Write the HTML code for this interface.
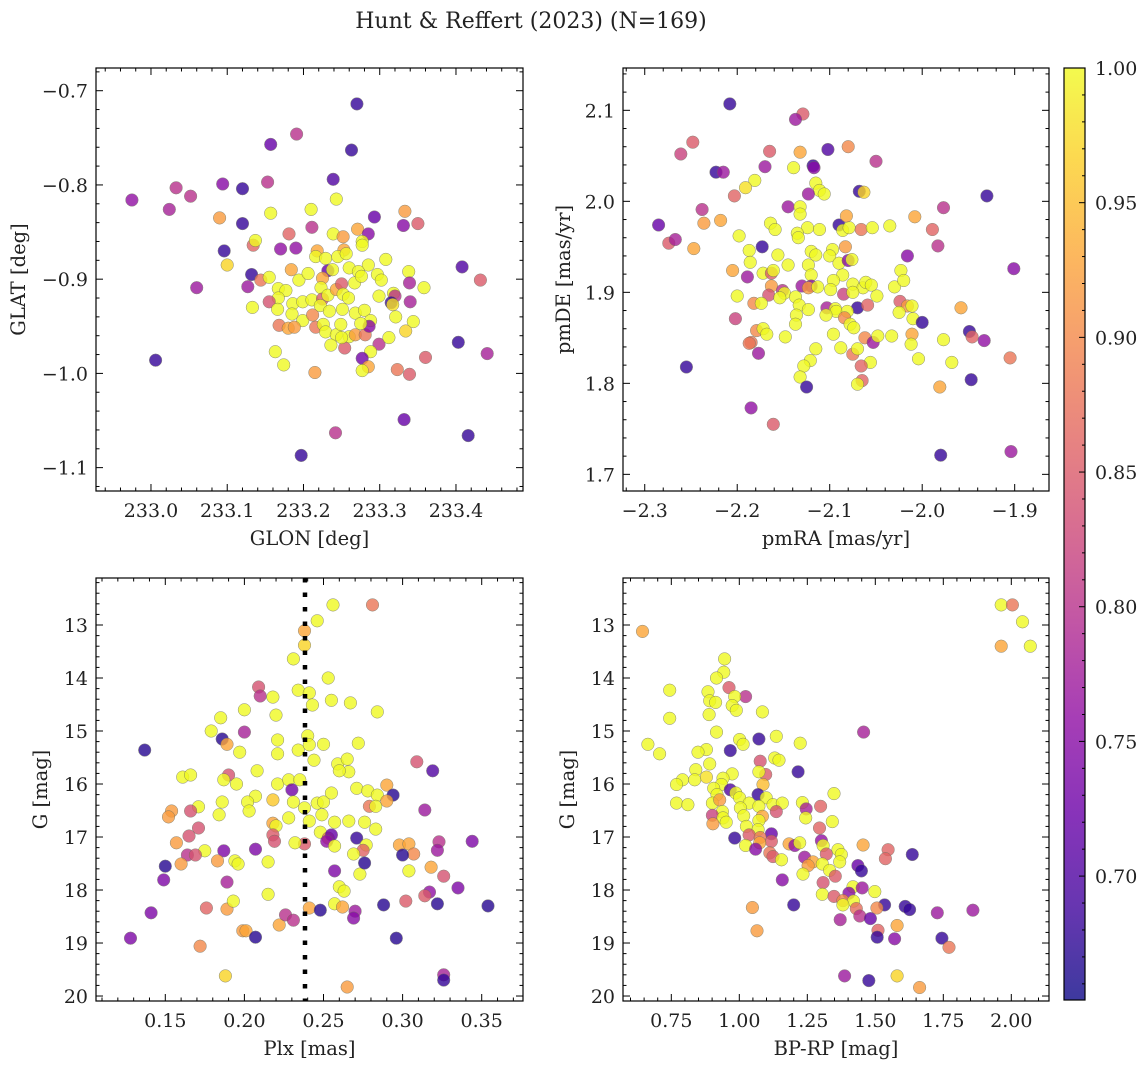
<!DOCTYPE html>
<html><head><meta charset="utf-8"><title>Hunt & Reffert (2023)</title>
<style>
html,body{margin:0;padding:0;background:#fff;}
svg{display:block;font-family:"DejaVu Serif","Liberation Serif",serif;}
</style></head>
<body>
<svg id="fig" width="1148" height="1068" viewBox="0 0 1148 1068" xmlns="http://www.w3.org/2000/svg">
<rect x="0" y="0" width="1148" height="1068" fill="#fff"/>
<text x="531" y="28" text-anchor="middle" font-size="22" fill="#222">Hunt &amp; Reffert (2023) (N=169)</text>
</svg>
<script>
// ---------- Panel 1: GLON vs GLAT ----------
const glon=[233.270,233.191,233.157,233.263,233.239,232.975,233.033,233.052,233.024,233.094,
233.120,233.153,233.243,233.090,233.157,233.210,233.120,233.211,233.293,233.333,
233.331,233.350,233.181,233.134,233.137,233.170,233.190,233.096,233.100,233.239,
233.252,233.271,233.285,233.277,233.277,233.218,233.253,233.216,233.229,233.245,
233.256,233.285,233.308,233.408,233.432,233.132,233.144,233.155,233.184,233.194,
233.206,233.232,233.238,233.260,233.272,233.267,233.276,233.297,233.302,233.338,
233.339,233.358,233.127,233.060,233.225,233.223,233.167,233.177,233.167,233.155,
233.133,233.166,233.186,233.199,233.211,233.225,233.232,233.243,233.250,233.252,
233.259,233.299,233.318,233.320,233.315,233.317,233.340,233.185,233.199,233.212,
233.222,233.234,233.251,233.268,233.280,233.288,233.321,233.344,233.334,233.168,
233.180,233.188,233.216,233.226,233.229,233.243,233.249,233.260,233.268,233.281,
233.286,233.275,233.236,233.254,233.250,233.299,233.312,233.288,233.163,233.174,
233.277,233.285,233.277,233.215,233.323,233.339,233.360,233.403,233.441,233.006,
233.332,233.242,233.416,233.197];
const glat=[-0.714,-0.746,-0.757,-0.763,-0.794,-0.816,-0.803,-0.812,-0.826,-0.799,
-0.804,-0.797,-0.815,-0.835,-0.830,-0.826,-0.841,-0.845,-0.834,-0.828,
-0.843,-0.841,-0.852,-0.864,-0.859,-0.868,-0.867,-0.870,-0.885,-0.852,
-0.855,-0.847,-0.852,-0.860,-0.864,-0.870,-0.869,-0.876,-0.878,-0.876,
-0.873,-0.885,-0.879,-0.887,-0.901,-0.895,-0.901,-0.898,-0.890,-0.901,
-0.894,-0.891,-0.890,-0.888,-0.892,-0.904,-0.897,-0.895,-0.901,-0.892,
-0.904,-0.909,-0.908,-0.909,-0.899,-0.909,-0.910,-0.912,-0.920,-0.924,
-0.930,-0.932,-0.926,-0.924,-0.922,-0.921,-0.917,-0.911,-0.905,-0.916,
-0.920,-0.918,-0.915,-0.918,-0.925,-0.927,-0.924,-0.937,-0.944,-0.938,
-0.928,-0.934,-0.932,-0.936,-0.933,-0.944,-0.940,-0.945,-0.955,-0.949,
-0.952,-0.951,-0.951,-0.948,-0.956,-0.959,-0.948,-0.961,-0.959,-0.959,
-0.950,-0.947,-0.970,-0.973,-0.962,-0.969,-0.962,-0.977,-0.977,-0.991,
-0.984,-0.993,-0.997,-0.999,-0.996,-1.001,-0.983,-0.967,-0.979,-0.986,
-1.049,-1.063,-1.066,-1.087];
const probPos=[.68,.80,.72,.68,.70,.76,.80,.80,.78,.75,
.68,.80,1,.92,1,1,.68,.80,.72,.92,
.75,.85,.86,.86,1,.76,.76,.68,.97,1,
.92,.93,.75,1,1,.93,.93,1,1,1,
1,1,1,.70,.85,.68,.88,1,.93,1,
1,.72,1,1,1,1,1,1,1,1,
.78,1,.77,.77,.93,1,1,1,1,.84,
1,1,1,1,1,.85,1,.93,.85,1,
1,1,1,.80,.68,.98,.78,1,1,.90,
1,1,1,1,1,1,1,1,.97,.88,
.93,.92,.88,1,1,1,1,1,.92,.88,
.75,1,1,.85,1,.80,1,1,1,1,
.73,.93,1,.92,.88,.85,.85,.68,.78,.68,
.72,.80,.68,.68];
const glonTicks=[233.0,233.1,233.2,233.3,233.4];
const glatTicks=[-0.7,-0.8,-0.9,-1.0,-1.1];

// ---------- Panel 2: pmRA vs pmDE ----------
const pmra=[-2.208,-2.129,-2.137,-2.248,-2.261,-2.165,-2.132,-2.102,-2.080,-2.050,
-2.223,-2.215,-2.170,-2.139,-2.118,-2.117,-2.181,-2.191,-2.115,-2.111,
-2.106,-2.123,-2.068,-2.063,-2.203,-1.930,-2.238,-2.145,-2.132,-2.132,
-1.977,-2.285,-2.236,-2.218,-2.164,-2.159,-2.124,-2.111,-2.090,-2.086,
-2.079,-2.082,-2.066,-2.054,-2.035,-2.008,-1.989,-1.983,-2.274,-2.267,
-2.247,-2.198,-2.173,-2.135,-2.134,-2.083,-2.097,-2.120,-2.115,-2.187,
-2.186,-2.156,-2.145,-2.100,-2.090,-2.080,-2.076,-2.016,-1.901,-2.205,
-2.189,-2.172,-2.163,-2.161,-2.123,-2.120,-2.086,-2.096,-2.099,-2.120,
-2.130,-2.123,-2.113,-2.075,-2.064,-2.061,-2.055,-2.049,-2.030,-2.023,
-2.020,-2.163,-2.151,-2.149,-2.166,-2.154,-2.137,-2.085,-2.075,-2.200,
-2.182,-2.174,-2.133,-2.123,-2.136,-2.103,-2.094,-2.093,-2.070,-2.059,
-2.081,-2.024,-2.016,-2.011,-2.025,-2.010,-2.000,-1.958,-2.104,-2.084,
-2.078,-2.074,-2.137,-2.202,-2.179,-2.172,-2.168,-2.185,-2.187,-2.148,
-2.096,-2.062,-2.053,-2.048,-2.033,-2.011,-2.012,-1.977,-1.949,-1.946,
-1.933,-2.177,-2.115,-2.088,-2.075,-2.070,-2.056,-2.066,-2.121,-2.128,
-2.132,-2.125,-2.065,-2.070,-2.004,-1.968,-1.905,-1.981,-1.947,-2.255,
-2.185,-2.161,-1.980,-1.904];
const pmde=[2.107,2.096,2.090,2.065,2.052,2.055,2.054,2.057,2.060,2.044,
2.032,2.032,2.038,2.037,2.039,2.037,2.023,2.015,2.020,2.012,
2.008,2.008,2.011,2.010,2.006,2.006,1.991,1.994,1.994,1.986,
1.993,1.974,1.976,1.979,1.976,1.969,1.971,1.969,1.974,1.968,
1.971,1.984,1.969,1.971,1.973,1.983,1.969,1.951,1.954,1.958,
1.948,1.962,1.950,1.965,1.960,1.950,1.947,1.945,1.941,1.946,
1.933,1.941,1.930,1.940,1.932,1.935,1.936,1.940,1.926,1.924,
1.917,1.921,1.921,1.924,1.930,1.919,1.919,1.913,1.903,1.907,
1.907,1.905,1.906,1.909,1.905,1.911,1.908,1.896,1.906,1.924,
1.913,1.907,1.902,1.899,1.897,1.894,1.895,1.898,1.900,1.896,
1.888,1.888,1.886,1.881,1.875,1.883,1.882,1.879,1.883,1.886,
1.879,1.890,1.885,1.885,1.878,1.871,1.867,1.883,1.875,1.872,
1.865,1.861,1.865,1.871,1.858,1.860,1.854,1.845,1.844,1.851,
1.854,1.850,1.845,1.852,1.852,1.854,1.843,1.848,1.857,1.851,
1.847,1.833,1.838,1.839,1.832,1.838,1.823,1.819,1.825,1.819,
1.807,1.796,1.803,1.799,1.827,1.823,1.828,1.796,1.804,1.818,
1.773,1.755,1.721,1.725];
const probPm=[.68,.85,.77,.85,.82,.85,.93,.70,.90,.80,
.68,.77,.77,1,.68,.75,1,.98,1,1,
1,.77,.68,.97,.86,.68,.80,.77,1,1,
.80,.72,.92,.93,1,1,1,1,.68,1,
1,.93,.88,1,1,.93,.86,.80,.85,.78,
.93,1,.68,1,1,.92,1,1,1,1,
1,1,1,1,1,.75,1,.75,.75,.93,
.77,1,.85,1,1,1,1,1,1,.75,
.77,.92,1,1,1,1,1,1,1,1,
1,.92,.80,1,.84,1,1,.82,1,1,
.90,1,1,1,1,.78,1,1,.68,.86,
1,.85,.92,1,1,1,.68,.93,1,.90,
1,1,1,.82,.90,1,1,.88,.88,1,
1,.90,.77,1,1,.93,1,1,.68,.86,
.76,.77,1,1,.88,1,1,.86,1,1,
1,.68,.86,1,1,1,.88,.93,.68,.68,
.76,.85,.68,.77];
const pmraTicks=[-2.3,-2.2,-2.1,-2.0,-1.9];
const pmdeTicks=[1.7,1.8,1.9,2.0,2.1];

// ---------- Panel 3: Plx vs G ----------
const plx=[.256,.281,.246,.238,.238,.231,.253,.234,.241,.243,
.209,.210,.218,.200,.185,.220,.255,.267,.284,.179,
.186,.189,.200,.221,.221,.197,.234,.240,.241,.250,
.272,.244,.259,.265,.266,.260,.137,.161,.166,.190,
.187,.195,.208,.221,.228,.235,.230,.271,.278,.284,
.290,.294,.309,.319,.314,.207,.202,.186,.218,.231,
.238,.246,.250,.255,.249,.241,.228,.203,.184,.171,
.166,.154,.152,.279,.283,.290,.257,.266,.276,.283,
.218,.220,.218,.219,.238,.232,.248,.253,.255,.252,
.257,.271,.277,.275,.269,.171,.165,.157,.175,.187,
.207,.164,.169,.194,.196,.183,.215,.160,.150,.149,
.141,.128,.176,.189,.193,.189,.215,.199,.201,.207,
.172,.188,.222,.226,.231,.241,.248,.257,.262,.260,
.263,.257,.270,.269,.273,.276,.288,.296,.265,.298,
.304,.307,.300,.304,.318,.323,.322,.326,.317,.314,
.322,.302,.335,.344,.354,.326,.326];
const gmagPlx=[12.62,12.62,12.92,13.11,13.38,13.64,14.00,14.23,14.28,14.51,
14.17,14.34,14.36,14.60,14.75,14.70,14.42,14.47,14.64,15.00,
15.15,15.25,15.02,15.17,15.43,15.40,15.36,15.09,15.26,15.25,
15.23,15.55,15.62,15.53,15.77,15.75,15.36,15.87,15.83,15.83,
15.92,16.00,15.75,16.00,15.92,15.92,16.11,16.08,16.13,16.21,
16.02,16.21,15.58,15.75,16.49,16.23,16.34,16.34,16.30,16.34,
16.45,16.36,16.34,16.17,16.58,16.70,16.64,16.51,16.58,16.43,
16.51,16.51,16.62,16.42,16.42,16.32,16.72,16.70,16.72,16.85,
16.74,16.79,16.96,17.08,17.13,17.11,16.91,17.02,16.96,17.08,
17.17,17.02,17.15,17.25,17.32,16.83,16.98,17.11,17.26,17.26,
17.23,17.34,17.34,17.45,17.51,17.45,17.47,17.51,17.55,17.81,
18.43,18.91,18.34,18.36,18.21,17.85,18.08,18.77,18.77,18.89,
19.06,19.62,18.66,18.47,18.57,18.34,18.38,18.26,18.32,17.94,
18.02,17.64,18.40,18.53,17.70,17.49,18.28,18.91,19.83,17.15,
17.13,17.32,17.34,17.64,17.57,17.09,17.25,17.74,18.04,18.11,
18.26,18.21,17.96,17.08,18.30,19.60,19.70];
const probPlx=[1,.88,1,.93,.97,1,1,1,1,1,
.84,.80,1,1,1,1,1,1,1,1,
.67,.93,.78,1,1,1,1,1,1,1,
1,1,1,1,1,1,.67,1,1,.84,
1,1,1,1,1,1,.73,1,1,1,
.93,.67,.84,.70,.77,1,1,1,.96,1,
1,1,1,1,1,1,1,1,1,1,
.84,.92,.92,.88,1,.93,1,1,1,1,
.93,1,.85,.84,.85,1,1,.88,.72,.76,
1,.68,1,.86,1,.84,.84,.92,1,.74,
.74,.80,.84,1,1,.92,1,.92,.67,.74,
.74,.74,.86,.92,1,.78,1,.92,.93,.67,
.90,.97,.93,.80,.80,.93,.67,1,.93,1,
1,.74,.77,.75,1,.67,.67,.67,.92,.93,
.93,.90,.67,1,.93,.80,.77,.84,.76,.85,
.67,.85,.74,.74,.67,.78,.68];
const plxLine=[0.2383];
const plxTicks=[0.15,0.20,0.25,0.30,0.35];
const gTicks=[13,14,15,16,17,18,19,20];

// ---------- Panel 4: BP-RP vs G ----------
const bprp=[.644,1.963,2.004,2.041,1.963,2.070,.946,.943,.916,.744,
.885,.962,1.023,.983,.891,.913,.974,.989,1.085,.889,
.744,.916,1.457,1.072,1.136,1.001,1.014,1.224,.664,.707,
.879,.848,.967,1.130,1.146,1.077,.891,1.216,1.097,1.072,
.840,.879,.836,.791,.769,.974,.940,.934,1.087,.906,
.967,.987,1.069,1.348,.918,1.001,1.036,1.099,.769,.811,
.901,.928,1.072,1.124,1.158,1.232,1.246,1.136,1.299,1.004,
.938,1.085,1.016,1.244,.901,.940,.952,.903,1.342,1.072,
1.026,1.069,1.295,1.118,1.036,1.077,.983,1.118,1.075,1.023,
1.060,1.183,1.204,1.222,1.302,1.308,1.455,1.547,1.537,1.363,
1.375,1.320,1.112,1.124,1.240,1.155,1.271,1.253,1.305,1.369,
1.436,1.449,1.332,1.353,1.234,1.636,1.158,1.308,1.418,1.452,
1.403,1.498,1.305,1.348,1.381,1.420,1.381,1.200,1.048,1.430,
1.443,1.534,1.506,1.610,1.626,1.728,1.859,1.371,1.482,1.580,
1.510,1.507,1.571,1.745,1.771,1.065,1.387,1.476,1.580,1.663];
const gmagCol=[13.12,12.62,12.62,12.94,13.40,13.40,13.64,13.89,14.00,14.23,
14.26,14.18,14.35,14.35,14.43,14.46,14.52,14.61,14.64,14.69,
14.76,15.02,15.02,15.15,15.10,15.16,15.25,15.23,15.25,15.43,
15.35,15.40,15.37,15.51,15.55,15.57,15.62,15.77,15.82,15.77,
15.73,15.87,15.92,15.92,16.01,15.81,15.89,16.01,16.01,16.08,
16.11,16.17,16.20,16.18,16.20,16.26,16.36,16.26,16.36,16.39,
16.36,16.30,16.42,16.39,16.36,16.35,16.47,16.52,16.42,16.45,
16.52,16.61,16.60,16.64,16.59,16.64,16.72,16.75,16.71,16.69,
16.80,16.86,16.83,16.94,16.96,17.01,17.02,17.08,17.11,17.16,
17.23,17.13,17.16,17.11,17.07,17.16,17.15,17.24,17.41,17.24,
17.33,17.32,17.30,17.37,17.38,17.43,17.47,17.54,17.51,17.47,
17.54,17.64,17.63,17.74,17.70,17.33,17.81,17.86,17.94,17.96,
18.06,18.03,18.08,18.12,18.20,18.21,18.28,18.28,18.33,18.35,
18.49,18.28,18.34,18.31,18.37,18.43,18.38,18.56,18.54,18.67,
18.76,18.89,18.92,18.91,19.08,18.77,19.62,19.71,19.62,19.84];
const probCol=[.93,1,.88,1,.93,1,1,1,1,1,
1,.85,.80,1,1,1,1,1,1,1,
1,1,.78,.68,1,1,1,1,1,1,
1,1,.68,1,1,.84,1,.68,.85,1,
1,.98,1,1,1,1,1,1,.95,1,
.70,1,.68,1,1,1,1,1,1,1,
1,.92,1,1,1,1,.78,.84,.86,1,
1,.93,1,1,.82,1,1,.92,1,1,
1,1,.86,.72,.85,.88,.68,.85,.93,1,
.75,.93,.76,1,.76,1,.93,.86,.86,1,
1,.85,.88,.85,.77,1,.93,.92,1,1,
.72,.68,1,.85,1,.68,.75,.84,1,.77,
.75,1,1,.85,.90,1,1,.68,.92,.87,
.80,.68,.90,.68,.68,.77,.77,.78,.72,.93,
.86,.68,.75,.68,.88,.92,.77,.68,.97,.92];
const bprpTicks=[0.75,1.00,1.25,1.50,1.75,2.00];

// ---------- Colorbar ----------
const cbarTicks=[0.70,0.75,0.80,0.85,0.90,0.95,1.00];
const cbarRange=[0.654,1.0];

// ---------- helpers ----------
const NS='http://www.w3.org/2000/svg';
const svg=document.getElementById('fig');
const TICKFS=19, LABFS=19.5;
function mk(tag,attrs,parent){const e=document.createElementNS(NS,tag);for(const k in attrs)e.setAttribute(k,attrs[k]);(parent||svg).appendChild(e);return e;}
function lin(d0,d1,r0,r1){return v=>r0+(v-d0)*(r1-r0)/(d1-d0);}
const PL=[[0,13,8,135],[0.1,65,4,157],[0.2,106,0,168],[0.3,143,13,164],[0.4,177,42,144],[0.5,204,71,120],[0.6,225,100,98],[0.7,242,132,75],[0.8,252,166,54],[0.9,252,206,37],[1,240,249,33]];
function plasma(t){t=Math.max(0,Math.min(1,t));for(let i=1;i<PL.length;i++){if(t<=PL[i][0]){const a=PL[i-1],b=PL[i],f=(t-a[0])/(b[0]-a[0]);return 'rgb('+[1,2,3].map(k=>Math.round(a[k]+(b[k]-a[k])*f)).join(',')+')';}}return 'rgb(240,249,33)';}
function cmap(p){return plasma((p-cbarRange[0])/(cbarRange[1]-cbarRange[0]));}
function fmt(v,d){return v.toFixed(d).replace('-','\u2212');}

function panel(cfg,xs,ys,ps){
  const g=mk('g',{});
  
  
  const X=lin(cfg.xd[0],cfg.xd[1],cfg.L,cfg.R);
  const Y=lin(cfg.yd[0],cfg.yd[1],cfg.T,cfg.B);
  const clipId='clip-'+cfg.name;
  const cp=mk('clipPath',{id:clipId},g);
  mk('rect',{x:cfg.L,y:cfg.T,width:cfg.R-cfg.L,height:cfg.B-cfg.T},cp);
  const pts=mk('g',{'clip-path':'url(#'+clipId+')'},g);
  
  
  for(let i=0;i<xs.length;i++){
    const c=mk('circle',{cx:X(xs[i]).toFixed(1),cy:Y(ys[i]).toFixed(1),r:6.3,fill:cmap(ps[i]),stroke:'#6a6a5a','stroke-width':0.5,opacity:0.8},pts);
    
    
  }
  if(cfg.vline!==undefined){
    const vl=mk('line',{x1:X(cfg.vline),x2:X(cfg.vline),y1:cfg.T,y2:cfg.B,stroke:'#000','stroke-width':4.5,'stroke-dasharray':'4.5 10'},g);
    
    
  }
  const fr=mk('rect',{x:cfg.L,y:cfg.T,width:cfg.R-cfg.L,height:cfg.B-cfg.T,fill:'none',stroke:'#000','stroke-width':1.2},g);
  
  
  const tk=mk('g',{stroke:'#000','stroke-width':1},g);
  
  
  const eps=1e-9;
  const xmaj=cfg.xt, ymaj=cfg.yt;
  const isMaj=(v,arr)=>arr.some(a=>Math.abs(a-v)<1e-6);
  const xlo=Math.min(cfg.xd[0],cfg.xd[1]),xhi=Math.max(cfg.xd[0],cfg.xd[1]);
  for(let k=Math.ceil(xlo/cfg.xm-eps);k*cfg.xm<=xhi+eps;k++){
    const v=k*cfg.xm; const px=X(v); const L=isMaj(v,xmaj)?7:3.5;
    mk('line',{x1:px,x2:px,y1:cfg.B,y2:cfg.B-L},tk);mk('line',{x1:px,x2:px,y1:cfg.T,y2:cfg.T+L},tk);
  }
  const ylo=Math.min(cfg.yd[0],cfg.yd[1]),yhi=Math.max(cfg.yd[0],cfg.yd[1]);
  for(let k=Math.ceil(ylo/cfg.ym-eps);k*cfg.ym<=yhi+eps;k++){
    const v=k*cfg.ym; const py=Y(v); const L=isMaj(v,ymaj)?7:3.5;
    mk('line',{x1:cfg.L,x2:cfg.L+L,y1:py,y2:py},tk);mk('line',{x1:cfg.R,x2:cfg.R-L,y1:py,y2:py},tk);
  }
  for(const v of xmaj){
    const t=mk('text',{x:X(v),y:cfg.B+26,'text-anchor':'middle','font-size':TICKFS,fill:'#222'},g);
    t.textContent=fmt(v,cfg.xdec);
    
    
  }
  for(const v of ymaj){
    const t=mk('text',{x:cfg.L-8,y:Y(v)+7,'text-anchor':'end','font-size':TICKFS,fill:'#222'},g);
    t.textContent=fmt(v,cfg.ydec);
    
    
  }
  const xl=mk('text',{x:(cfg.L+cfg.R)/2,y:cfg.B+54,'text-anchor':'middle','font-size':LABFS,fill:'#222'},g);
  xl.textContent=cfg.xlabel;
  
  
  const yc=(cfg.T+cfg.B)/2;
  const yl=mk('text',{x:cfg.ylx,y:yc,'text-anchor':'middle','font-size':LABFS,fill:'#222',transform:'rotate(-90 '+cfg.ylx+' '+yc+')'},g);
  yl.textContent=cfg.ylabel;
  
  
}

panel({name:'glon-glat-panel',L:96,R:523,T:68,B:491,xd:[232.9279,233.4879],yd:[-0.6759,-1.1248],xt:glonTicks,yt:glatTicks,xm:0.02,ym:0.02,xdec:1,ydec:1,xlabel:'GLON [deg]',ylabel:'GLAT [deg]',ylx:25},glon,glat,probPos);
panel({name:'proper-motion-panel',L:623,R:1049,T:68,B:491,xd:[-2.3235,-1.8629],yd:[2.1465,1.6817],xt:pmraTicks,yt:pmdeTicks,xm:0.02,ym:0.02,xdec:1,ydec:1,xlabel:'pmRA [mas/yr]',ylabel:'pmDE [mas/yr]',ylx:570},pmra,pmde,probPm);
panel({name:'parallax-magnitude-panel',L:96,R:523,T:578,B:1001,xd:[0.1062,0.3761],yd:[12.113,20.094],xt:plxTicks,yt:gTicks,xm:0.01,ym:0.2,xdec:2,ydec:0,xlabel:'Plx [mas]',ylabel:'G [mag]',ylx:47,vline:plxLine[0]},plx,gmagPlx,probPlx);
panel({name:'color-magnitude-panel',L:623,R:1049,T:578,B:1001,xd:[0.5724,2.1386],yd:[12.113,20.094],xt:bprpTicks,yt:gTicks,xm:0.05,ym:0.2,xdec:2,ydec:0,xlabel:'BP-RP [mag]',ylabel:'G [mag]',ylx:574},bprp,gmagCol,probCol);

// colorbar
(function(){
  const cb=mk('g',{});
  
  
  const L=1064,R=1085,T=68,B=1000;
  const defs=mk('defs',{},cb);
  const gr=mk('linearGradient',{id:'cbgrad',x1:0,y1:1,x2:0,y2:0},defs);
  for(let i=0;i<=20;i++){const t=i/20;mk('stop',{offset:t,'stop-color':plasma(t)},gr);}
  mk('rect',{x:L,y:T,width:R-L,height:B-T,fill:'url(#cbgrad)',opacity:0.8},cb);
  const fr=mk('rect',{x:L,y:T,width:R-L,height:B-T,fill:'none',stroke:'#000','stroke-width':1.2},cb);
  
  
  const Y=lin(cbarRange[0],cbarRange[1],B,T);
  for(let k=Math.ceil(cbarRange[0]*100);k<=100;k++){
    const v=k/100;const py=Y(v);const maj=cbarTicks.some(a=>Math.abs(a-v)<1e-6);
    mk('line',{x1:R,x2:R-(maj?6:3),y1:py,y2:py,stroke:'#000','stroke-width':1},cb);
  }
  for(const v of cbarTicks){
    const t=mk('text',{x:R+10,y:Y(v)+7,'font-size':TICKFS,fill:'#222'},cb);
    t.textContent=v.toFixed(2);
    
    
  }
})();
</script>
</body></html>
